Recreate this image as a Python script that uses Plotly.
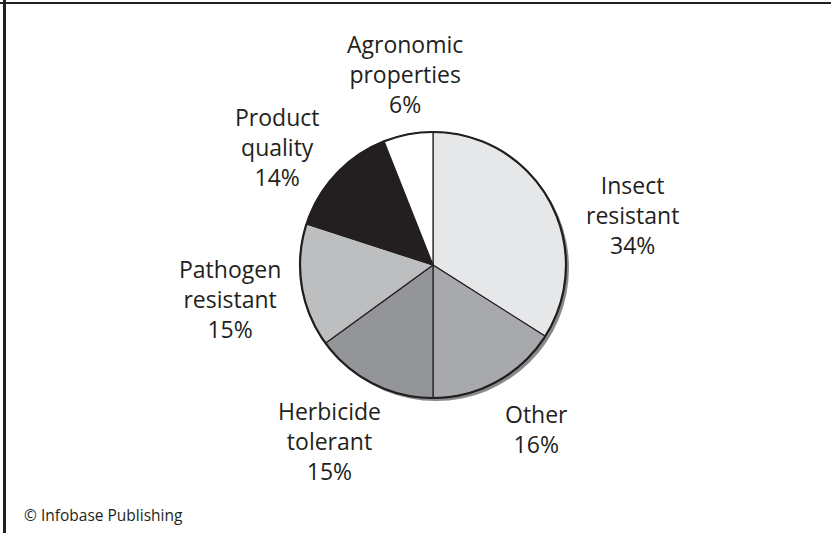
import plotly.graph_objects as go

categories = ["Insect resistant", "Other", "Herbicide tolerant", "Pathogen resistant",
              "Product quality", "Agronomic properties"]
values = [34, 16, 15, 15, 14, 6]
colors = ["#e6e7e8", "#a7a9ac", "#939598", "#bcbec0", "#231f20", "#ffffff"]
label_lines = [["Insect", "resistant"], ["Other"], ["Herbicide", "tolerant"],
               ["Pathogen", "resistant"], ["Product", "quality"], ["Agronomic", "properties"]]
# label anchor positions (pixels from top-left): center x, top y
label_pos = [(632, 167), (536, 396), (329, 393), (230, 251), (277, 99), (405, 26)]

W, H = 831, 533
cx, cy, r = 433, 265, 133

fig = go.Figure()
fig.add_trace(go.Pie(
    labels=categories, values=values, sort=False, direction="clockwise", rotation=0,
    marker=dict(colors=colors, line=dict(color="#231f20", width=1.2)),
    textinfo="none", hoverinfo="none", showlegend=False,
    domain=dict(x=[(cx - r) / W, (cx + r) / W], y=[(H - cy - r) / H, (H - cy + r) / H]),
))

shapes = [
    # shadow
    dict(type="circle", xref="paper", yref="paper", layer="below",
         x0=(cx - r + 3) / W, x1=(cx + r + 3) / W,
         y0=(H - cy - r - 3) / H, y1=(H - cy + r - 3) / H,
         fillcolor="#8a8a8a", line=dict(width=0)),
    # outer ring
    dict(type="circle", xref="paper", yref="paper", layer="above",
         x0=(cx - r) / W, x1=(cx + r) / W,
         y0=(H - cy - r) / H, y1=(H - cy + r) / H,
         line=dict(color="#231f20", width=2.2)),
    # frame
    dict(type="line", xref="paper", yref="paper", x0=0, x1=1, y0=1 - 3 / H, y1=1 - 3 / H,
         line=dict(color="#231f20", width=2)),
    dict(type="line", xref="paper", yref="paper", x0=4.5 / W, x1=4.5 / W, y0=0, y1=1,
         line=dict(color="#231f20", width=3)),
]

annotations = []
for cat, v, lines, (lx, ly) in zip(categories, values, label_lines, label_pos):
    txt = "<br>".join(lines + [f"{v}%"])
    annotations.append(dict(
        text=txt, x=lx / W, y=1 - ly / H, xref="paper", yref="paper",
        xanchor="center", yanchor="top", showarrow=False, align="center",
        font=dict(family="Open Sans", size=23, color="#231f20"),
    ))
annotations.append(dict(
    text="© Infobase Publishing", x=22 / W, y=1 - 515 / H, xref="paper", yref="paper",
    xanchor="left", yanchor="middle", showarrow=False,
    font=dict(family="Open Sans", size=15.5, color="#231f20"),
))

fig.update_layout(
    width=W, height=H, margin=dict(l=0, r=0, t=0, b=0),
    paper_bgcolor="white", plot_bgcolor="white",
    shapes=shapes, annotations=annotations,
)
fig.write_html("out.html", config={"displayModeBar": False},
               post_script="document.body.style.margin='0';document.body.style.overflow='hidden';")
